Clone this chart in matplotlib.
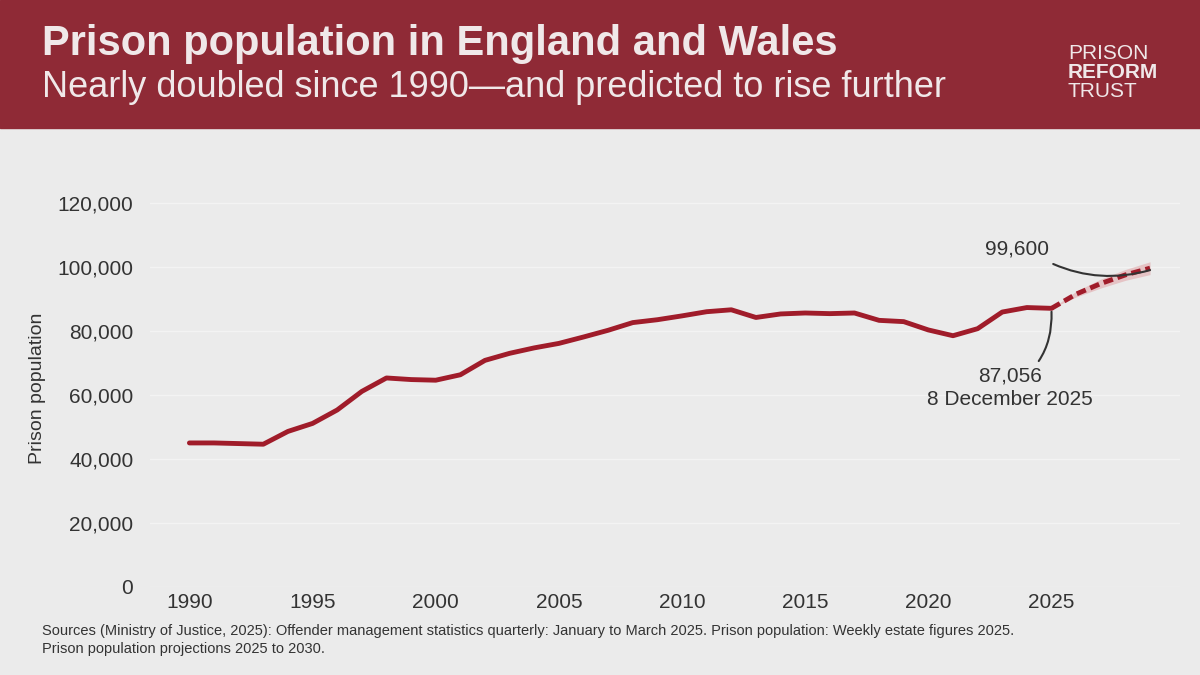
import matplotlib.pyplot as plt
import matplotlib.patches as mpatches

years = list(range(1990, 2026))
population = [45.0, 45.0, 44.8, 44.6, 48.6, 51.1, 55.3, 61.1, 65.3, 64.8,
              64.6, 66.3, 70.8, 73.0, 74.7, 76.1, 78.1, 80.2, 82.6, 83.5,
              84.7, 86.0, 86.6, 84.2, 85.3, 85.6, 85.4, 85.6, 83.3, 82.9,
              80.3, 78.5, 80.7, 85.9, 87.3, 87.056]
proj_years = [2025, 2026, 2027, 2028, 2029]
proj_pop = [87.056, 91.5, 94.8, 97.5, 99.6]
proj_low = [87.056, 90.6, 93.4, 95.8, 97.6]
proj_high = [87.056, 92.4, 96.2, 99.2, 101.6]

RED = "#a01c2a"
BG = "#ebebeb"
TXT = "#333333"
HEAD = "#f0e8e9"

plt.rcParams['font.family'] = ['Liberation Sans', 'DejaVu Sans']
fig = plt.figure(figsize=(12, 6.75), dpi=100, facecolor=BG)

# header band
fig.patches.append(mpatches.Rectangle((0, 1 - 128 / 675), 1, 128 / 675,
                                      transform=fig.transFigure, color="#8f2a36", zorder=0))
fig.text(0.035, 0.935, "Prison population in England and Wales", color=HEAD,
         fontsize=30, fontweight="bold", va="center")
fig.text(0.035, 0.87, "Nearly doubled since 1990\u2014and predicted to rise further",
         color=HEAD, fontsize=26, va="center")
fig.text(0.89, 0.921, "PRISON", color=HEAD, fontsize=15, va="center")
fig.text(0.89, 0.893, "REFORM", color=HEAD, fontsize=15, va="center", fontweight="bold")
fig.text(0.89, 0.865, "TRUST", color=HEAD, fontsize=15, va="center")

ax = fig.add_axes([0.125, 0.1304, 0.858, 0.588], facecolor=BG)
ax.fill_between(proj_years, [v * 1000 for v in proj_low], [v * 1000 for v in proj_high],
                color="#e3b3b5", alpha=0.7, lw=0)
ax.plot(years, [v * 1000 for v in population], color=RED, lw=3.5, solid_capstyle="round")
ax.plot(proj_years, [v * 1000 for v in proj_pop], color=RED, lw=3.5, ls=(0, (2, 1)))

ax.set_xlim(1988.4, 2030.2)
ax.set_ylim(0, 124000)
ax.set_yticks(range(0, 120001, 20000))
ax.set_yticklabels([f"{v:,}" for v in range(0, 120001, 20000)])
ax.set_xticks(range(1990, 2026, 5))
ax.tick_params(length=0, labelsize=15, colors=TXT)
ax.tick_params(axis="y", pad=12)
ax.tick_params(axis="x", pad=4)
ax.grid(axis="y", color="#f3f3f3", lw=1)
ax.set_axisbelow(True)
for s in ax.spines.values():
    s.set_visible(False)
ax.set_ylabel("Prison population", fontsize=14, color=TXT, labelpad=8)

ax.annotate("87,056\n8 December 2025", xy=(2025, 86000), xytext=(2023.3, 69000),
            ha="center", va="top", fontsize=15, color=TXT, linespacing=1.3,
            arrowprops=dict(arrowstyle="-", color="#333333", lw=1.5,
                            connectionstyle="arc3,rad=0.3", shrinkA=2, shrinkB=0))
ax.annotate("99,600", xy=(2029, 99000), xytext=(2023.6, 102500),
            ha="center", va="bottom", fontsize=15, color=TXT,
            arrowprops=dict(arrowstyle="-", color="#333333", lw=1.5,
                            connectionstyle="arc3,rad=0.2", shrinkA=4, shrinkB=0,
                            relpos=(0.9, 0)))

fig.text(0.035, 0.075, "Sources (Ministry of Justice, 2025): Offender management statistics quarterly: "
         "January to March 2025. Prison population: Weekly estate figures 2025.\n"
         "Prison population projections 2025 to 2030.", fontsize=10.5, color=TXT,
         va="top", linespacing=1.3)

fig.savefig("out.png", dpi=100, facecolor=BG)
